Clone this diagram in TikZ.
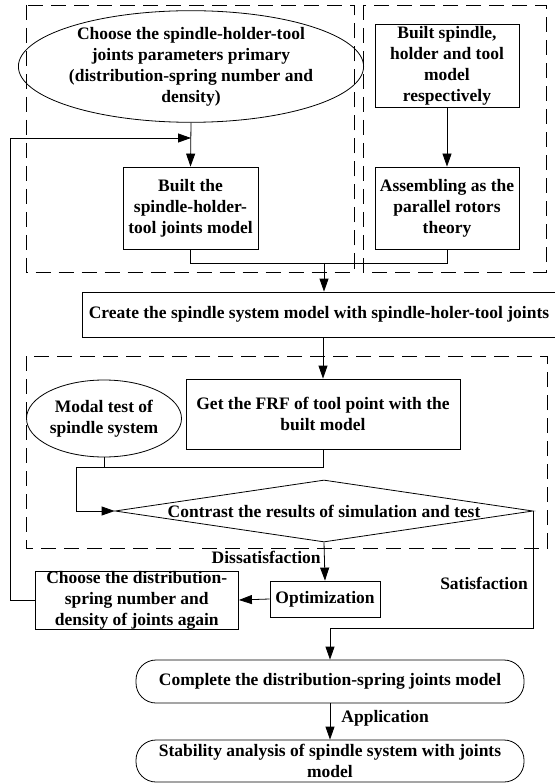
\documentclass[tikz,border=0pt]{standalone}
\usepackage{fontspec}
\setmainfont{Liberation Serif}
\usetikzlibrary{shapes.geometric,arrows.meta}
\begin{document}
\begin{tikzpicture}[x=1pt,y=1pt,
  base/.style={font=\bfseries\fontsize{17.5}{21}\selectfont, align=center, inner sep=0pt, line width=0.8pt},
  box/.style={base, draw, rectangle},
  ell/.style={base, draw, ellipse},
  dia/.style={base, draw, diamond, aspect=6.75},
  term/.style={base, draw, rectangle, rounded corners=20pt},
  lbl/.style={base},
  grp/.style={draw, dash pattern=on 15pt off 8pt, line width=0.7pt},
  arr/.style={-{Triangle[length=13pt,width=9pt]}, line width=0.8pt},
  ln/.style={line width=0.8pt}]
\useasboundingbox (0,0) rectangle (554,-783);
% group frames
\draw[grp] (26.5,-5) rectangle (354,-272);
\draw[grp] (363,-5) rectangle (546,-272);
\draw[grp] (26,-356) rectangle (547,-548);
% nodes
\node[ell, minimum width=314pt, minimum height=107pt] (ell) at (191,-66.5)
  {Choose the spindle-holder-tool\\joints parameters primary\\(distribution-spring number and\\density)};
\node[box, minimum width=135pt, minimum height=82pt] (joint) at (190.5,-208)
  {Built the\\spindle-holder-\\tool joints model};
\node[box, minimum width=144pt, minimum height=83pt] (bsp) at (447,-65.5)
  {Built spindle,\\holder and tool\\model\\respectively};
\node[box, minimum width=144pt, minimum height=82pt] (asm) at (447,-208)
  {Assembling as the\\parallel rotors\\theory};
\node[box, minimum width=474pt, minimum height=45pt] (create) at (319,-314.5)
  {Create the spindle system model with spindle-holer-tool joints};
\node[box, minimum width=274pt, minimum height=70pt] (frf) at (323,-414)
  {Get the FRF of tool point with the\\built model};
\node[ell, minimum width=155pt, minimum height=77pt] (modal) at (104,-418.5)
  {Modal test of\\spindle system};
\node[dia, minimum width=418pt, minimum height=62pt] (dia) at (324,-511)
  {Contrast the results of simulation and test};
\node[box, minimum width=110pt, minimum height=36pt] (opt) at (325,-599)
  {Optimization};
\node[box, minimum width=203.5pt, minimum height=58pt] (choose) at (136.75,-600)
  {Choose the distribution-\\spring number and\\density of joints again};
\node[term, minimum width=388pt, minimum height=43pt] (comp) at (330,-681.5)
  {Complete the distribution-spring joints model};
\node[term, minimum width=388pt, minimum height=42pt] (stab) at (330,-761)
  {Stability analysis of spindle system with joints\\model};
\node[lbl, anchor=east] (dis) at (321,-557) {Dissatisfaction};
\node[lbl] (sat) at (484,-583) {Satisfaction};
\node[lbl, anchor=west] (app) at (341,-718) {Application};
% coordinates
\coordinate (mj) at (324,-263);
\coordinate (mj2) at (76,-467);
\coordinate (sc) at (534,-628);
\coordinate (fb) at (10.5,-138);
% connectors
\draw[arr] (ell.south) -- (joint.north);
\draw[arr] (bsp.south) -- (asm.north);
\draw[ln] (joint.south) -- (joint.south |- mj) -- (asm.south |- mj) -- (asm.south);
\draw[arr] (mj) -- (mj |- create.north);
\draw[arr] (frf.north |- create.south) -- (frf.north);
\draw[ln] (modal.south) -- (modal.south |- mj2);
\draw[ln] (frf.south) |- (mj2);
\draw[arr] (mj2) |- (dia.west);
\draw[arr] (dia.east) -- (dia.east |- sc) -- (comp.north |- sc) -- (comp.north);
\draw[arr] (dia.south) -- (opt.north);
\draw[arr] (opt.west) -- (choose.east);
\draw[arr] (choose.west) -| (fb) -- (fb -| ell.south);
\draw[arr] (comp.south) -- (stab.north);
\end{tikzpicture}
\end{document}
